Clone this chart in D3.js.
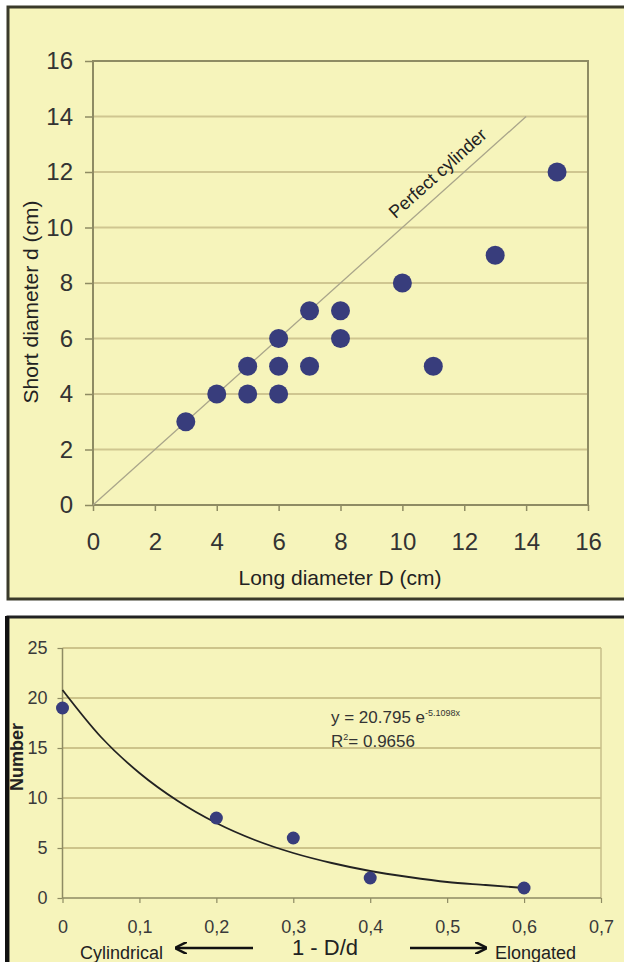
<!DOCTYPE html>
<html><head><meta charset="utf-8">
<script src="https://cdn.jsdelivr.net/npm/d3@7"></script>
<style>body{margin:0;background:#fff;font-family:"Liberation Sans",Arial,sans-serif}</style>
</head><body>
<svg id="c" width="624" height="962"></svg>
<script>
// Top chart data
const longD  = [3,4,5,5,6,6,6,7,7,8,8,10,11,13,15];
const shortD = [3,4,5,4,6,5,4,7,5,7,6,8,5,9,12];
const topTicks = [0,2,4,6,8,10,12,14,16];
const cylLine = [0,14];
// Bottom chart data
const ratio  = [0,0.2,0.3,0.4,0.6];
const counts = [19,8,6,2,1];
const trendX = [0,0.05,0.1,0.15,0.2,0.25,0.3,0.35,0.4,0.45,0.5,0.55,0.6];
const trendY = [20.8,16.1,12.5,9.7,7.5,5.8,4.5,3.5,2.7,2.1,1.6,1.3,1.0];
const botYTicks = [0,5,10,15,20,25];
const botXTicks = [0,0.1,0.2,0.3,0.4,0.5,0.6,0.7];

const svg = d3.select("#c");
const BG = "#f6f4bb", GRID = "#cfc690", FRAME = "#8e8b63", DOT = "#383d7c", TXT = "#333";
const FF = "Liberation Sans, Arial, sans-serif";

// ---------- Top panel ----------
svg.append("rect").attr("x",8).attr("y",7).attr("width",622).attr("height",592)
  .attr("fill",BG).attr("stroke","#3a3a2a").attr("stroke-width",3);

const x1 = d3.scaleLinear().domain([0,16]).range([93,588]);
const y1 = d3.scaleLinear().domain([0,16]).range([505,61]);
const g1 = svg.append("g");

g1.selectAll("line.grid").data(topTicks.filter(d=>d>0&&d<16)).join("line")
  .attr("x1",x1(0)).attr("x2",x1(16)).attr("y1",d=>y1(d)).attr("y2",d=>y1(d))
  .attr("stroke",GRID).attr("stroke-width",2);

g1.append("rect").attr("x",x1(0)).attr("y",y1(16)).attr("width",x1(16)-x1(0)).attr("height",y1(0)-y1(16))
  .attr("fill","none").attr("stroke",FRAME).attr("stroke-width",2);

const ax1 = g1.append("g").attr("transform",`translate(0,${y1(0)})`)
  .call(d3.axisBottom(x1).tickValues(topTicks).tickSize(6).tickPadding(22).tickSizeOuter(0));
const ay1 = g1.append("g").attr("transform",`translate(${x1(0)},0)`)
  .call(d3.axisLeft(y1).tickValues(topTicks).tickSize(8).tickPadding(12).tickSizeOuter(0));
[ax1,ay1].forEach(a=>{
  a.select(".domain").remove();
  a.selectAll("line").attr("stroke",FRAME).attr("stroke-width",1.5);
  a.selectAll("text").attr("fill",TXT).attr("font-size",24).attr("font-family",FF);
});

// perfect cylinder line
g1.append("line").attr("x1",x1(cylLine[0])).attr("y1",y1(cylLine[0]))
  .attr("x2",x1(cylLine[1])).attr("y2",y1(cylLine[1]))
  .attr("stroke","#a9a58a").attr("stroke-width",1.3);
const ang = Math.atan2(y1(0)-y1(1), x1(1)-x1(0))*180/Math.PI;
g1.append("text").attr("transform",`translate(${x1(11.5)-7},${y1(11.5)-8}) rotate(${-ang})`)
  .attr("text-anchor","middle").attr("font-size",18).attr("fill","#222").text("Perfect cylinder");

g1.selectAll("circle").data(longD.map((d,i)=>[d,shortD[i]])).join("circle")
  .attr("cx",d=>x1(d[0])).attr("cy",d=>y1(d[1])).attr("r",9.5).attr("fill",DOT);

g1.append("text").attr("x",340).attr("y",585).attr("text-anchor","middle")
  .attr("font-size",21).attr("fill","#222").text("Long diameter D (cm)");
g1.append("text").attr("transform","translate(38,302) rotate(-90)").attr("text-anchor","middle")
  .attr("font-size",21).attr("fill","#222").text("Short diameter d (cm)");

// ---------- Bottom panel ----------
svg.append("rect").attr("x",8).attr("y",617).attr("width",622).attr("height",350)
  .attr("fill",BG).attr("stroke","#222").attr("stroke-width",3);
svg.append("line").attr("x1",7).attr("x2",7).attr("y1",616).attr("y2",962).attr("stroke","#111").attr("stroke-width",4);

const x2 = d3.scaleLinear().domain([0,0.7]).range([62.5,601]);
const y2 = d3.scaleLinear().domain([0,25]).range([898,648]);
const g2 = svg.append("g");

g2.selectAll("line.grid").data(botYTicks.filter(d=>d>0)).join("line")
  .attr("x1",x2(0)).attr("x2",x2(0.7)).attr("y1",d=>y2(d)).attr("y2",d=>y2(d))
  .attr("stroke","#bfb47a").attr("stroke-width",1.5);
g2.append("line").attr("x1",x2(0)).attr("x2",x2(0)).attr("y1",y2(0)).attr("y2",y2(25)).attr("stroke",FRAME).attr("stroke-width",1.5);
g2.append("line").attr("x1",x2(0.7)).attr("x2",x2(0.7)).attr("y1",y2(0)).attr("y2",y2(25)).attr("stroke","#c7bf8a").attr("stroke-width",1.5);
g2.append("line").attr("x1",x2(0)).attr("x2",x2(0.7)).attr("y1",y2(0)).attr("y2",y2(0)).attr("stroke",FRAME).attr("stroke-width",1.5);

const ax2 = g2.append("g").attr("transform",`translate(0,${y2(0)})`)
  .call(d3.axisBottom(x2).tickValues(botXTicks).tickFormat(d=>d===0?"0":d3.format(".1f")(d).replace(".",",")).tickSize(5).tickPadding(17).tickSizeOuter(0));
const ay2 = g2.append("g").attr("transform",`translate(${x2(0)},0)`)
  .call(d3.axisLeft(y2).tickValues(botYTicks).tickSize(5).tickPadding(10).tickSizeOuter(0));
[ax2,ay2].forEach(a=>{
  a.select(".domain").remove();
  a.selectAll("line").attr("stroke",FRAME).attr("stroke-width",1.2);
  a.selectAll("text").attr("fill","#3a3a3a").attr("font-size",18).attr("font-family",FF);
});

g2.append("path").datum(trendX.map((d,i)=>[d,trendY[i]]))
  .attr("d",d3.line().x(d=>x2(d[0])).y(d=>y2(d[1])).curve(d3.curveMonotoneX))
  .attr("fill","none").attr("stroke","#222").attr("stroke-width",1.8);

g2.selectAll("circle").data(ratio.map((d,i)=>[d,counts[i]])).join("circle")
  .attr("cx",d=>x2(d[0])).attr("cy",d=>y2(d[1])).attr("r",6.5).attr("fill",DOT);

const eq = g2.append("text").attr("x",331).attr("y",723).attr("font-size",17).attr("fill","#333");
eq.append("tspan").text("y = 20.795 e");
eq.append("tspan").attr("dy",-7).attr("font-size",9).text("-5.1098x");
const r2 = g2.append("text").attr("x",331).attr("y",747).attr("font-size",17).attr("fill","#333");
r2.append("tspan").text("R");
r2.append("tspan").attr("dy",-7).attr("font-size",9).text("2");
r2.append("tspan").attr("dy",7).text("= 0.9656");

g2.append("text").attr("transform","translate(23,757) rotate(-90)").attr("text-anchor","middle")
  .attr("font-size",18).attr("font-weight","bold").attr("fill","#222").text("Number");

g2.append("text").attr("x",80).attr("y",959).attr("font-size",18).attr("fill","#222").text("Cylindrical");
g2.append("text").attr("x",325).attr("y",955).attr("text-anchor","middle").attr("font-size",22).attr("fill","#222").text("1 - D/d");
g2.append("text").attr("x",495).attr("y",959).attr("font-size",18).attr("fill","#222").text("Elongated");

const defs = svg.append("defs");
defs.append("marker").attr("id","ah").attr("viewBox","0 0 10 10").attr("refX",9).attr("refY",5)
  .attr("markerWidth",5).attr("markerHeight",5).attr("orient","auto-start-reverse")
  .append("path").attr("d","M0,0 L10,5 L0,10").attr("fill","none").attr("stroke","#111").attr("stroke-width",2);
g2.append("line").attr("x1",253).attr("x2",176).attr("y1",948).attr("y2",948).attr("stroke","#111").attr("stroke-width",2.5).attr("marker-end","url(#ah)");
g2.append("line").attr("x1",410).attr("x2",486).attr("y1",948).attr("y2",948).attr("stroke","#111").attr("stroke-width",2.5).attr("marker-end","url(#ah)");
</script>
</body></html>
